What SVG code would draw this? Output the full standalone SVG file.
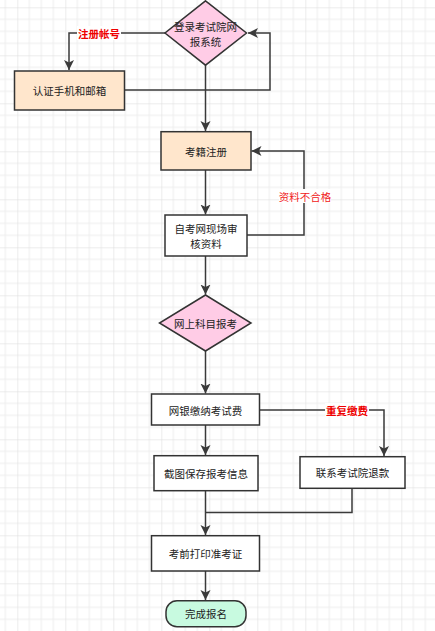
<svg xmlns="http://www.w3.org/2000/svg" width="435" height="631" viewBox="0 0 435 631">
<defs>
<pattern id="grid" patternUnits="userSpaceOnUse" x="17.3" y="7.3" width="48" height="48">
<path d="M12,0V48M24,0V48M36,0V48M0,12H48M0,24H48M0,36H48" stroke="#ededed" stroke-width="1" fill="none"/>
<path d="M0,0V48M0,0H48" stroke="#dadada" stroke-width="1" fill="none"/>
</pattern>
<marker id="arr" markerUnits="userSpaceOnUse" markerWidth="12" markerHeight="12" refX="10" refY="5" orient="auto">
<path d="M0,0 L10,5 L0,10 L2.5,5 Z" fill="#3a3a3a"/>
</marker>
<style>
.n{stroke:#333;stroke-width:1.5}
.peach{fill:#ffe6cc}
.pink{fill:#ffcce6}
.white{fill:#fff}
.green{fill:#c8fae0}
.t{font-family:"Noto Sans CJK SC","Liberation Sans",sans-serif;font-size:10.5px;fill:#222;text-anchor:middle;dominant-baseline:central}
.e{fill:none;stroke:#3a3a3a;stroke-width:1.5}
.lbl{font-family:"Noto Sans CJK SC","Liberation Sans",sans-serif;font-size:10.5px;text-anchor:middle;dominant-baseline:central}
.bold{font-weight:bold;fill:#ee0000}
.reg{fill:#f02020}
</style>
</defs>
<rect width="435" height="631" fill="#fff"/>
<rect width="435" height="631" fill="url(#grid)"/>

<g id="edges">
<path class="e" d="M165,33H69V70" marker-end="url(#arr)"/>
<path class="e" d="M124,90H270V33H248" marker-end="url(#arr)"/>
<path class="e" d="M205.5,65V131" marker-end="url(#arr)"/>
<path class="e" d="M205.5,170V214.5" marker-end="url(#arr)"/>
<path class="e" d="M247,235H304V151H251.5" marker-end="url(#arr)"/>
<path class="e" d="M205.5,256V294.5" marker-end="url(#arr)"/>
<path class="e" d="M205.5,351V393.5" marker-end="url(#arr)"/>
<path class="e" d="M205.5,425V455" marker-end="url(#arr)"/>
<path class="e" d="M259,410H384V456" marker-end="url(#arr)"/>
<path class="e" d="M205.5,491V535" marker-end="url(#arr)"/>
<path class="e" d="M352,488V512.5H205.5"/>
<path class="e" d="M205.5,571V600" marker-end="url(#arr)"/>
<rect x="77" y="26" width="44" height="14" fill="#fff"/>
<text class="lbl bold" x="99" y="33">注册帐号</text>
<rect x="279" y="189" width="52" height="14" fill="#fff"/>
<text class="lbl reg" x="305" y="196">资料不合格</text>
<rect x="325" y="403" width="44" height="14" fill="#fff"/>
<text class="lbl bold" x="347" y="410">重复缴费</text>
</g>

<g id="n1">
<path class="n pink" d="M205.5,0.8L246.5,33L205.5,65.2L165,33Z"/>
<text class="t" x="205.5" y="26">登录考试院网</text>
<text class="t" x="205.5" y="41">报系统</text>
</g>
<g id="n2">
<rect class="n peach" x="14.5" y="71" width="110" height="39"/>
<text class="t" x="69.5" y="90.5">认证手机和邮箱</text>
</g>
<g id="n3">
<rect class="n peach" x="161" y="131.7" width="90" height="38.3"/>
<text class="t" x="206" y="151">考籍注册</text>
</g>
<g id="n4">
<rect class="n white" x="165" y="215" width="82" height="41"/>
<text class="t" x="206" y="228">自考网现场审</text>
<text class="t" x="206" y="243">核资料</text>
</g>
<g id="n5">
<path class="n pink" d="M205.5,295L251,323L205.5,351L159.5,323Z"/>
<text class="t" x="205.5" y="323">网上科目报考</text>
</g>
<g id="n6">
<rect class="n white" x="151.5" y="394" width="108" height="31"/>
<text class="t" x="205.5" y="410">网银缴纳考试费</text>
</g>
<g id="n7">
<rect class="n white" x="154" y="455.7" width="104" height="35"/>
<text class="t" x="206" y="473">截图保存报考信息</text>
</g>
<g id="n8">
<rect class="n white" x="300" y="456.7" width="105" height="31.6"/>
<text class="t" x="352.5" y="472.5">联系考试院退款</text>
</g>
<g id="n9">
<rect class="n white" x="151.5" y="535.7" width="108" height="35.3"/>
<text class="t" x="205.5" y="553.5">考前打印准考证</text>
</g>
<g id="n10">
<rect class="n green" x="166" y="600.7" width="80" height="26" rx="11" ry="11"/>
<text class="t" x="206" y="613.7">完成报名</text>
</g>
</svg>
